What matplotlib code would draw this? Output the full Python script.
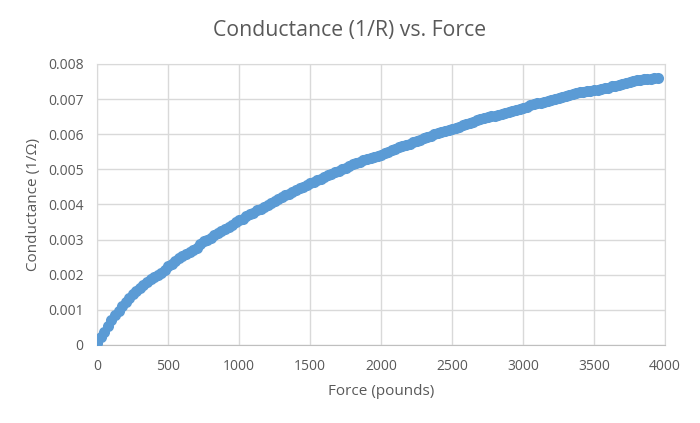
import matplotlib
matplotlib.use('Agg')
import matplotlib.pyplot as plt

# Force (pounds) and conductance (1/Ohm)
force = [0, 25, 50, 75, 100, 125, 150, 175, 200, 225, 250, 275, 300, 325, 350, 375,
         400, 425, 450, 475, 500, 525, 550, 575, 600, 625, 650, 675, 700, 725, 750, 775,
         800, 825, 850, 875, 900, 925, 950, 975, 1000, 1025, 1050, 1075, 1100, 1125,
         1150, 1175, 1200, 1225, 1250, 1275, 1300, 1325, 1350, 1375, 1400, 1425, 1450,
         1475, 1500, 1525, 1550, 1575, 1600, 1625, 1650, 1675, 1700, 1725, 1750, 1775,
         1800, 1825, 1850, 1875, 1900, 1925, 1950, 1975, 2000, 2025, 2050, 2075, 2100,
         2125, 2150, 2175, 2200, 2225, 2250, 2275, 2300, 2325, 2350, 2375, 2400, 2425,
         2450, 2475, 2500, 2525, 2550, 2575, 2600, 2625, 2650, 2675, 2700, 2725, 2750,
         2775, 2800, 2825, 2850, 2875, 2900, 2925, 2950, 2975, 3000, 3025, 3050, 3075,
         3100, 3125, 3150, 3175, 3200, 3225, 3250, 3275, 3300, 3325, 3350, 3375, 3400,
         3425, 3450, 3475, 3500, 3525, 3550, 3575, 3600, 3625, 3650, 3675, 3700, 3725,
         3750, 3775, 3800, 3825, 3850, 3875, 3900, 3925, 3950]
conductance = [0.00005, 0.00022, 0.00038, 0.00055, 0.00070, 0.00085, 0.00098, 0.00110,
               0.00121, 0.00133, 0.00144, 0.00154, 0.00163, 0.00172, 0.00180, 0.00187,
               0.00193, 0.00198, 0.00205, 0.00214, 0.00224, 0.00232, 0.00240, 0.00247,
               0.00254, 0.00260, 0.00266, 0.00271, 0.00277, 0.00287, 0.00295, 0.00300,
               0.00306, 0.00312, 0.00318, 0.00324, 0.00330, 0.00337, 0.00343, 0.00349,
               0.00355, 0.00360, 0.00366, 0.00372, 0.00377, 0.00383, 0.00388, 0.00393,
               0.00398, 0.00404, 0.00409, 0.00415, 0.00420, 0.00426, 0.00431, 0.00436,
               0.00441, 0.00446, 0.00451, 0.00455, 0.00460, 0.00465, 0.00469, 0.00474,
               0.00478, 0.00483, 0.00487, 0.00492, 0.00496, 0.00501, 0.00505, 0.00510,
               0.00514, 0.00518, 0.00522, 0.00526, 0.00530, 0.00533, 0.00536, 0.00539,
               0.00542, 0.00546, 0.00550, 0.00555, 0.00559, 0.00563, 0.00566, 0.00570,
               0.00573, 0.00577, 0.00580, 0.00584, 0.00588, 0.00592, 0.00596, 0.00600,
               0.00603, 0.00606, 0.00609, 0.00612, 0.00615, 0.00619, 0.00622, 0.00626,
               0.00629, 0.00633, 0.00636, 0.00640, 0.00643, 0.00646, 0.00648, 0.00651,
               0.00653, 0.00656, 0.00659, 0.00661, 0.00664, 0.00667, 0.00670, 0.00673,
               0.00676, 0.00679, 0.00682, 0.00685, 0.00688, 0.00690, 0.00692, 0.00695,
               0.00697, 0.00700, 0.00702, 0.00705, 0.00708, 0.00711, 0.00714, 0.00717,
               0.00719, 0.00721, 0.00722, 0.00724, 0.00725, 0.00727, 0.00729, 0.00731,
               0.00733, 0.00736, 0.00738, 0.00741, 0.00743, 0.00746, 0.00748, 0.00751,
               0.00754, 0.00755, 0.00756, 0.00757, 0.00758, 0.00760, 0.00761]

xticks = [0, 500, 1000, 1500, 2000, 2500, 3000, 3500, 4000]
yticks = [0, 0.001, 0.002, 0.003, 0.004, 0.005, 0.006, 0.007, 0.008]
yticklabels = ['0', '0.001', '0.002', '0.003', '0.004', '0.005', '0.006', '0.007', '0.008']

TextColor = '#595959'
GridColor = '#d9d9d9'
plt.rcParams['font.family'] = ['Open Sans', 'DejaVu Sans']

fig = plt.figure(figsize=(7.0, 4.23), dpi=100)
# plot area: x 97..665 px, y 64..345 px
ax = fig.add_axes([0.139, 0.1844, 0.811, 0.6643])

ax.plot(force, conductance, 'o', markersize=8, color='#5b9bd5', markeredgewidth=0, zorder=3)

ax.set_xlim(0, 4000)
ax.set_ylim(0, 0.008)
ax.set_xticks(xticks)
ax.set_yticks(yticks)
ax.set_yticklabels(yticklabels)
ax.tick_params(axis='both', length=0, labelsize=10, labelcolor=TextColor)
ax.tick_params(axis='x', pad=10)
ax.tick_params(axis='y', pad=10)
ax.grid(color=GridColor, linewidth=1)
ax.set_axisbelow(True)
for side in ['top', 'right', 'left']:
    ax.spines[side].set_color(GridColor)
ax.spines['bottom'].set_color('#bfbfbf')

ax.set_xlabel('Force (pounds)', fontsize=11, color=TextColor, labelpad=7)
ax.set_ylabel('Conductance (1/\u03a9)', fontsize=11, color=TextColor, labelpad=5)
fig.text(0.5, 0.929, 'Conductance (1/R) vs. Force', ha='center', va='center', fontsize=15.3, color=TextColor)

fig.savefig('out.png', dpi=100)
